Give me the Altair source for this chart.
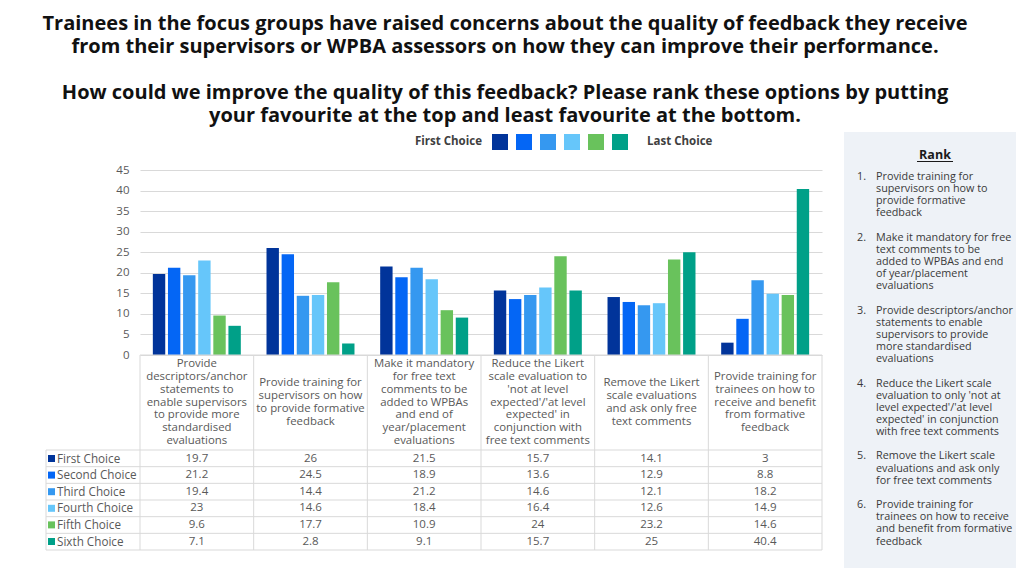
import altair as alt
import pandas as pd

# ---------------- data ----------------
categories = ["C1", "C2", "C3", "C4", "C5", "C6"]
category_labels = [
    ["Provide", "descriptors/anchor", "statements to", "enable supervisors",
     "to provide more", "standardised", "evaluations"],
    ["Provide training for", "supervisors on how", "to provide formative", "feedback"],
    ["Make it mandatory", "for free text", "comments to be", "added to WPBAs",
     "and end of", "year/placement", "evaluations"],
    ["Reduce the Likert", "scale evaluation to", "'not at level", "expected'/'at level",
     "expected' in", "conjunction with", "free text comments"],
    ["Remove the Likert", "scale evaluations", "and ask only free", "text comments"],
    ["Provide training for", "trainees on how to", "receive and benefit",
     "from formative", "feedback"],
]
series = ["First Choice", "Second Choice", "Third Choice",
          "Fourth Choice", "Fifth Choice", "Sixth Choice"]
first_choice = [19.7, 26, 21.5, 15.7, 14.1, 3]
second_choice = [21.2, 24.5, 18.9, 13.6, 12.9, 8.8]
third_choice = [19.4, 14.4, 21.2, 14.6, 12.1, 18.2]
fourth_choice = [23, 14.6, 18.4, 16.4, 12.6, 14.9]
fifth_choice = [9.6, 17.7, 10.9, 24, 23.2, 14.6]
sixth_choice = [7.1, 2.8, 9.1, 15.7, 25, 40.4]
series_values = [first_choice, second_choice, third_choice,
                 fourth_choice, fifth_choice, sixth_choice]
colors = ["#01349A", "#0466F5", "#3598F0", "#66C6FA", "#69C25C", "#00A088"]
y_ticks = [0, 5, 10, 15, 20, 25, 30, 35, 40, 45]

title_lines = [
    "Trainees in the focus groups have raised concerns about the quality of feedback they receive",
    "from their supervisors or WPBA assessors on how they can improve their performance.",
    "",
    "How could we improve the quality of this feedback? Please rank these options by putting",
    "your favourite at the top and least favourite at the bottom.",
]
rank_title = "Rank"
rank_items = [
    ["Provide training for", "supervisors on how to", "provide formative", "feedback"],
    ["Make it mandatory for free", "text comments to be", "added to WPBAs and end",
     "of year/placement", "evaluations"],
    ["Provide descriptors/anchor", "statements to enable", "supervisors to provide",
     "more standardised", "evaluations"],
    ["Reduce the Likert scale", "evaluation to only 'not at", "level expected'/'at level",
     "expected' in conjunction", "with free text comments"],
    ["Remove the Likert scale", "evaluations and ask only", "for free text comments"],
    ["Provide training for", "trainees on how to receive", "and benefit from formative",
     "feedback"],
]
legend_left = "First Choice"
legend_right = "Last Choice"

# ---------------- tables ----------------
rows = []
for s, vals in zip(series, series_values):
    for c, v in zip(categories, vals):
        rows.append({"category": c, "series": s, "value": v, "label": f"{v:g}"})
df = pd.DataFrame(rows)

hdr_rows = []
for c, lines in zip(categories, category_labels):
    n = len(lines)
    for i, t in enumerate(lines):
        hdr_rows.append({"category": c, "line": i - (n - 1) / 2, "text": t})
df_hdr = pd.DataFrame(hdr_rows)
df_series = pd.DataFrame({"series": series})

df_title = pd.DataFrame([{"line": i, "text": t} for i, t in enumerate(title_lines) if t])

rank_rows, num_rows = [], []
idx = 0
for i, item in enumerate(rank_items):
    num_rows.append({"line": idx, "text": f"{i + 1}."})
    for t in item:
        rank_rows.append({"line": idx, "text": t})
        idx += 1
    idx += 1
df_rank = pd.DataFrame(rank_rows)
df_num = pd.DataFrame(num_rows)
n_rank = idx - 2

# ---------------- layout constants ----------------
W, H = 682, 185
GRID = "#D9D9D9"
TXT = "#595959"
FONT = "Open Sans"

x_scale = alt.Scale(type="band", domain=categories, paddingInner=0.226, paddingOuter=0.113)
xoff_scale = alt.Scale(domain=series, paddingInner=0.18, paddingOuter=0)
row_scale = alt.Scale(type="point", domain=series, range=[288.5, 371.5], padding=0)
hdr_scale = alt.Scale(domain=[-3, 3], range=[232.5 - 3 * 12.85, 232.5 + 3 * 12.85])
title_scale = alt.Scale(domain=[0, 4], range=[-146.5, -54.5])
rank_scale = alt.Scale(domain=[0, n_rank], range=[7, 7 + n_rank * 12.15])
color_scale = alt.Scale(domain=series, range=colors)

legend = alt.Legend(
    orient="none", legendX=275, legendY=-36, direction="horizontal",
    title=legend_left, titleOrient="left", titleFont=FONT, titleFontSize=11.5,
    titleFontWeight="bold", titleColor="#404040", titlePadding=10,
    titleBaseline="middle", titleAnchor="middle",
    labelExpr="''", labelOffset=0, columnPadding=8, symbolType="square",
    symbolSize=256, symbolStrokeWidth=0, symbolOpacity=1, padding=0,
)

bars = alt.Chart(df).mark_bar().encode(
    x=alt.X("category:N", scale=x_scale, axis=None, sort=categories),
    xOffset=alt.XOffset("series:N", scale=xoff_scale, sort=series),
    y=alt.Y("value:Q", scale=alt.Scale(domain=[0, 45], nice=False),
            axis=alt.Axis(values=y_ticks, title=None, domain=False, ticks=False,
                          labelPadding=11, labelColor=TXT, labelFontSize=11.5,
                          labelFont=FONT, gridColor=GRID, grid=True)),
    color=alt.Color("series:N", scale=color_scale, sort=series, legend=legend),
)

cells = alt.Chart(df).mark_text(font=FONT, fontSize=11.5, color=TXT, baseline="middle").encode(
    x=alt.X("category:N", scale=x_scale, axis=None, sort=categories),
    y=alt.Y("series:N", scale=row_scale, axis=None, sort=series),
    text="label:N",
)

headers = alt.Chart(df_hdr).mark_text(
    font=FONT, fontSize=11.4, color=TXT, baseline="middle"
).encode(
    x=alt.X("category:N", scale=x_scale, axis=None, sort=categories),
    y=alt.Y("line:Q", scale=hdr_scale, axis=None),
    text="text:N",
)

row_squares = alt.Chart(df_series).mark_square(size=49, opacity=1).encode(
    x=alt.value(-88.5),
    y=alt.Y("series:N", scale=row_scale, axis=None, sort=series),
    color=alt.Color("series:N", scale=color_scale, sort=series, legend=legend),
)
row_labels = alt.Chart(df_series).mark_text(
    font=FONT, fontSize=11.7, color=TXT, align="left", baseline="middle"
).encode(
    x=alt.value(-83),
    y=alt.Y("series:N", scale=row_scale, axis=None, sort=series),
    text="series:N",
)

one = pd.DataFrame({"k": [0]})


def rule(x, x2, y, y2, color=GRID, width=1):
    return alt.Chart(one).mark_rule(color=color, strokeWidth=width).encode(
        x=alt.value(x), x2=alt.value(x2), y=alt.value(y), y2=alt.value(y2))


step = W / len(categories)
grid_rules = [rule(i * step, i * step, 185, 380) for i in range(len(categories) + 1)]
grid_rules.append(rule(-94, -94, 280, 380))
grid_rules.append(rule(0, W, 185, 185))
for j in range(len(series) + 1):
    yy = 280 + j * (100 / len(series))
    grid_rules.append(rule(-94, W, yy, yy))

panel = alt.Chart(one).mark_rect(color="#EEF2F7").encode(
    x=alt.value(704), x2=alt.value(880), y=alt.value(-38), y2=alt.value(402))


def line_text(d, scale, x, **kw):
    return alt.Chart(d).mark_text(font=FONT, baseline="middle", **kw).encode(
        x=alt.value(x), y=alt.Y("line:Q", scale=scale, axis=None), text="text:N")


def text_one(t, x, y, **kw):
    return alt.Chart(pd.DataFrame({"t": [t]})).mark_text(font=FONT, **kw).encode(
        x=alt.value(x), y=alt.value(y), text="t:N")


title = line_text(df_title, title_scale, 365, fontSize=20, fontWeight="bold",
                  color="#111111", align="center")
last_choice = text_one(legend_right, 507, -28, fontSize=11.5, fontWeight="bold",
                       color="#404040", align="left", baseline="middle")
rank_hdr = text_one(rank_title, 795, -15, fontSize=12.5, fontWeight="bold",
                    color="#1A1A1A", align="center", baseline="middle")
rank_ul = rule(777, 813, -8.5, -8.5, color="#1A1A1A", width=1.2)
rank_nums = line_text(df_num, rank_scale, 717, fontSize=10.8, color="#3A3A3A", align="left")
rank_txt = line_text(df_rank, rank_scale, 736, fontSize=10.8, color="#3A3A3A", align="left")

chart = alt.layer(
    panel, bars, *grid_rules, cells, headers, row_squares, row_labels,
    title, last_choice, rank_hdr, rank_ul, rank_nums, rank_txt,
).resolve_scale(y="independent").properties(
    width=W, height=H,
    padding={"left": 132, "top": 162, "right": 194, "bottom": 213},
    autosize=alt.AutoSizeParams(type="none"),
    background="white",
).configure_view(stroke=None)

chart.save("out.html", embed_options={"renderer": "svg", "actions": False})
